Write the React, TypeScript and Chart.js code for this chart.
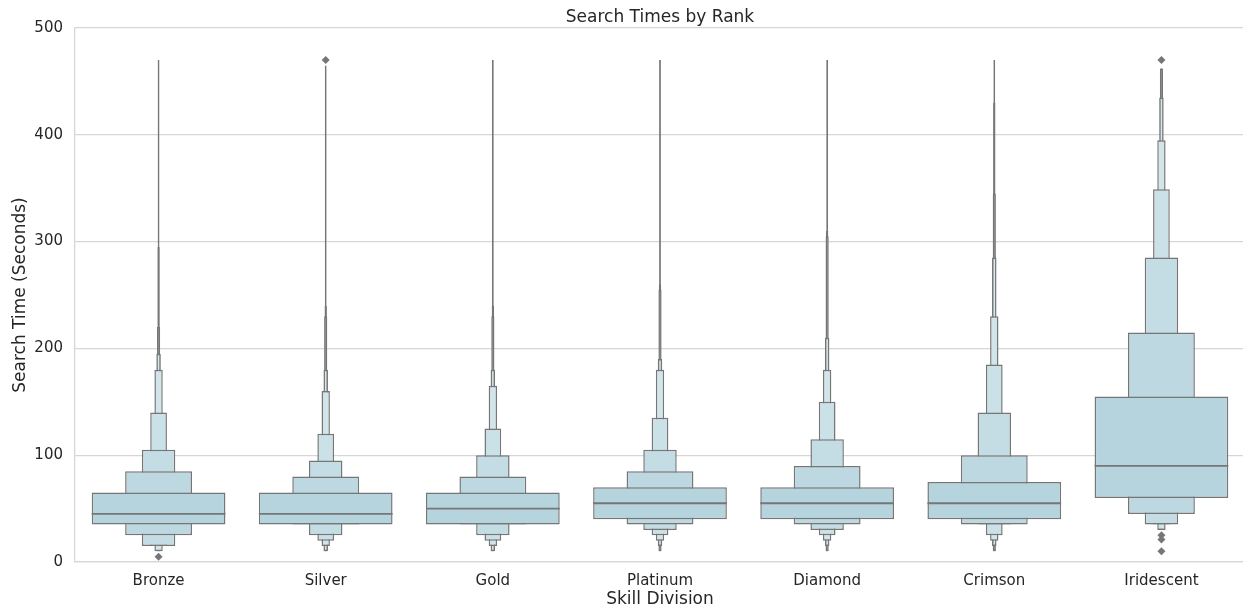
import React, { useEffect, useRef } from "react";
import { Chart, registerables } from "chart.js";

Chart.register(...registerables);

// ---- data ----
const categories = ["Bronze", "Silver", "Gold", "Platinum", "Diamond", "Crimson", "Iridescent"];
const medians = [45, 45, 50, 55, 55, 55, 90];

// letter-value boxes, from the quartile box (level 1) outward
const bronzeLower = [35, 25, 15, 15, 10, 10, 10, 10, 10];
const bronzeUpper = [65, 85, 105, 140, 180, 195, 220, 295, 470];
const silverLower = [35, 35, 25, 20, 15, 10, 10, 10, 10];
const silverUpper = [65, 80, 95, 120, 160, 180, 230, 240, 465];
const goldLower = [35, 35, 25, 20, 15, 10, 10, 10, 10];
const goldUpper = [65, 80, 100, 125, 165, 180, 230, 240, 470];
const platinumLower = [40, 35, 30, 25, 20, 15, 10, 10, 10];
const platinumUpper = [70, 85, 105, 135, 180, 190, 255, 260, 470];
const diamondLower = [40, 35, 30, 25, 20, 15, 10, 10, 10];
const diamondUpper = [70, 90, 115, 150, 180, 210, 305, 310, 470];
const crimsonLower = [40, 35, 35, 25, 20, 15, 10, 10, 10];
const crimsonUpper = [75, 100, 140, 185, 230, 285, 345, 430, 470];
const iridescentLower = [60, 45, 35, 35, 30, 30, 30, 30, 30];
const iridescentUpper = [155, 215, 285, 349, 395, 435, 462, 462, 462];

const outlierCategories = ["Bronze", "Silver", "Iridescent", "Iridescent", "Iridescent", "Iridescent"];
const outlierValues = [5, 470, 470, 25, 21, 10];

const yTickValues = [0, 100, 200, 300, 400, 500];

// ---- styles ----
const lowers = [bronzeLower, silverLower, goldLower, platinumLower, diamondLower, crimsonLower, iridescentLower];
const uppers = [bronzeUpper, silverUpper, goldUpper, platinumUpper, diamondUpper, crimsonUpper, iridescentUpper];
const levelWidths = [0.8, 0.4, 0.2, 0.1, 0.05, 0.027, 0.019, 0.014, 0.011];
const levelFills = [
  "rgb(181,212,222)",
  "rgb(189,216,225)",
  "rgb(196,221,229)",
  "rgb(203,225,232)",
  "rgb(210,229,235)",
  "rgb(216,233,238)",
  "rgb(222,237,241)",
  "rgb(226,239,243)",
  "rgb(230,241,245)",
];
const EDGE = "rgb(118,118,118)";
const GRID = "rgb(214,214,214)";
const TEXT = "#262626";
const FONT = "'DejaVu Sans', sans-serif";

export default function App() {
  const ref = useRef<HTMLCanvasElement | null>(null);

  useEffect(() => {
    document.body.style.margin = "0";
    document.body.style.overflow = "hidden";
    const canvas = ref.current;
    if (!canvas) return;

    const levelDatasets = levelWidths.map((w, k) => ({
      type: "bar" as const,
      label: "level" + (k + 1),
      data: categories.map((_, c) => [lowers[c][k], uppers[c][k]]),
      backgroundColor: levelFills[k],
      borderColor: EDGE,
      borderWidth: 1.5,
      borderSkipped: false,
      barPercentage: w,
      categoryPercentage: 1,
      grouped: false,
      inflateAmount: 0,
    }));

    const chart = new Chart(canvas, {
      type: "bar",
      data: {
        labels: categories,
        datasets: [
          {
            type: "scatter",
            label: "outliers",
            data: outlierCategories.map((c, i) => ({ x: c, y: outlierValues[i] })),
            pointStyle: "rectRot",
            pointRadius: 4,
            backgroundColor: EDGE,
            borderColor: EDGE,
            borderWidth: 0,
          } as any,
          {
            type: "bar",
            label: "median",
            data: medians.map((m) => [m - 0.85, m + 0.85]),
            backgroundColor: EDGE,
            borderWidth: 0,
            barPercentage: 0.8,
            categoryPercentage: 1,
            grouped: false,
            inflateAmount: 0,
          } as any,
          ...(levelDatasets as any[]),
        ],
      },
      options: {
        responsive: false,
        animation: false,
        devicePixelRatio: 1,
        layout: { padding: { left: 0, right: 0, top: 0, bottom: 0 } },
        plugins: {
          legend: { display: false },
          tooltip: { enabled: false },
          title: { display: false },
        },
        scales: {
          x: {
            type: "category",
            offset: true,
            grid: { display: false, drawTicks: false },
            border: { display: true, color: GRID, width: 1.3 },
            ticks: { color: TEXT, font: { family: FONT, size: 15 }, padding: 10 },
            title: {
              display: true,
              text: "Skill Division",
              color: TEXT,
              font: { family: FONT, size: 17 },
              padding: { top: 0, bottom: -2 },
            },
            afterFit: (s: any) => {
              s.height = 46;
            },
          },
          top: {
            type: "category",
            position: "top",
            offset: true,
            grid: { display: false, drawTicks: false },
            border: { display: false },
            ticks: { display: false },
            title: {
              display: true,
              text: "Search Times by Rank",
              color: TEXT,
              font: { family: FONT, size: 17 },
              padding: { top: 7, bottom: 0 },
            },
            afterFit: (s: any) => {
              s.height = 28;
            },
          },
          y: {
            min: 0,
            max: 500,
            afterBuildTicks: (s: any) => {
              s.ticks = yTickValues.map((v) => ({ value: v }));
            },
            grid: { color: GRID, lineWidth: 1.3, drawTicks: false },
            border: { display: true, color: GRID, width: 1.3 },
            ticks: { color: TEXT, font: { family: FONT, size: 15 }, padding: 12 },
            title: {
              display: true,
              text: "Search Time (Seconds)",
              color: TEXT,
              font: { family: FONT, size: 17 },
              padding: { top: 10, bottom: 0 },
            },
            afterFit: (s: any) => {
              s.width = 75;
            },
          },
        },
      } as any,
    });

    return () => chart.destroy();
  }, []);

  return (
    <div style={{ width: 1243, height: 608, overflow: "hidden" }}>
      <canvas ref={ref} width={1249} height={608} style={{ display: "block" }} />
    </div>
  );
}
